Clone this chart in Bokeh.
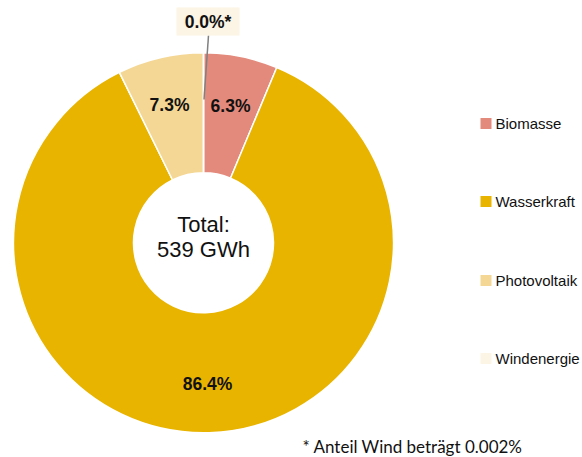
import math
from bokeh.plotting import figure
from bokeh.models import ColumnDataSource, Range1d
from bokeh.core.properties import value
from bokeh.embed import file_html
from bokeh.resources import INLINE

# ---- data ----
categories = ["Biomasse", "Wasserkraft", "Photovoltaik", "Windenergie"]
shares = [6.3, 86.4, 7.3, 0.002]          # percent
share_labels = ["6.3%", "86.4%", "7.3%", "0.0%*"]
colors = ["#E48A7C", "#E8B400", "#F4D794", "#FCF4E4"]
total_gwh = 539
footnote = "* Anteil Wind beträgt 0.002%"

W, H = 582, 457

def px(x):
    return x

def py(y):
    return H - y

p = figure(width=W, height=H, output_backend="svg", toolbar_location=None,
           x_range=Range1d(0, W), y_range=Range1d(0, H), min_border=0)
p.axis.visible = False
p.grid.visible = False
p.outline_line_color = None
p.background_fill_color = "white"
p.border_fill_color = "white"

# ---- donut ----
cx, cy = px(203), py(242.3)
r_out, r_in = 190, 70
tot = sum(shares)
starts, ends = [], []
cum = 0.0
for s in shares:
    starts.append(math.pi / 2 - 2 * math.pi * cum / tot)
    cum += s
    ends.append(math.pi / 2 - 2 * math.pi * cum / tot)
src = ColumnDataSource(dict(x=[cx] * len(shares), y=[cy] * len(shares),
                            start=starts, end=ends, color=colors))
p.annular_wedge(x="x", y="y", inner_radius=r_in, outer_radius=r_out,
                start_angle="start", end_angle="end", direction="clock",
                fill_color="color", line_color="white", line_width=1.5,
                source=src)

FONT = value("Liberation Sans")

# slice labels
lab_pos = {0: (230, 105), 1: (207, 383), 2: (169, 104)}
for i, (xx, yy) in lab_pos.items():
    p.text(x=[px(xx)], y=[py(yy)], text=[share_labels[i]], text_font=FONT,
           text_font_size="17.5px", text_font_style="bold", text_color="#111111",
           text_align="center", text_baseline="middle")

# callout for wind
p.segment(x0=[px(208)], y0=[py(35)], x1=[px(203.5)], y1=[py(99)],
          line_color="#808080", line_width=1.5)
p.rect(x=[px(207.5)], y=[py(21)], width=63, height=28,
       fill_color=colors[3], line_color=None)
p.text(x=[px(207.5)], y=[py(21)], text=[share_labels[3]], text_font=FONT,
       text_font_size="17.5px", text_font_style="bold", text_color="#111111",
       text_align="center", text_baseline="middle")

# centre text
p.text(x=[cx, cx], y=[py(224), py(249)], text=["Total:", f"{total_gwh} GWh"],
       text_font=FONT, text_font_size="22px", text_color="#111111",
       text_align="center", text_baseline="middle")

# legend
leg_y = [123, 201, 280, 358]
for i, cat in enumerate(categories):
    p.rect(x=[px(485.5)], y=[py(leg_y[i])], width=11, height=11,
           fill_color=colors[i], line_color=None)
    p.text(x=[px(495)], y=[py(leg_y[i])], text=[cat], text_font=FONT,
           text_font_size="15px", text_color="#111111",
           text_align="left", text_baseline="middle")

# footnote
p.text(x=[px(302)], y=[py(446)], text=[footnote], text_font=value("Lato"),
       text_font_size="17px", text_color="#111111",
       text_align="left", text_baseline="alphabetic")

open("out.html", "w").write(file_html(p, INLINE))
